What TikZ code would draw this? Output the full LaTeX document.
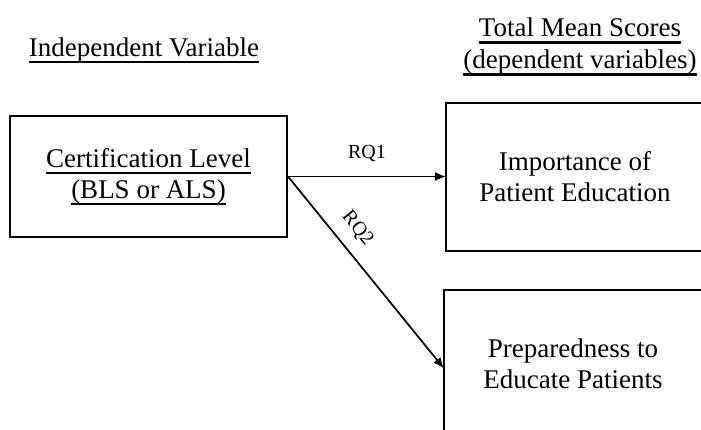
\documentclass[tikz,border=0pt]{standalone}
\usepackage{fontspec}
\setmainfont{Liberation Serif}
\usetikzlibrary{shapes,arrows.meta,calc}
\newsavebox{\undlbox}
\newcommand{\undl}[1]{\sbox{\undlbox}{#1}\rlap{\rule[-6.9pt]{\wd\undlbox}{2.4pt}}\usebox{\undlbox}}

\begin{document}
\begin{tikzpicture}[
    x=1pt, y=-1pt,
    node distance=1.5cm,
    auto,
    block/.style={
      rectangle,
      draw,
      line width=2pt,
      align=center,
      inner sep=3pt,
      font=\fontsize{27}{31}\selectfont
    },
    header/.style={
      align=center,
      inner sep=0pt,
      font=\fontsize{27}{32}\selectfont
    },
    rqlabel/.style={inner sep=2pt, font=\fontsize{20}{24}\selectfont},
    line/.style={draw, -{Latex[length=11pt,width=9pt]}, line width=1.7pt},
    border/.style={draw, line width=2pt},
]
    \path [use as bounding box, clip] (0,0) rectangle (701,429);

    \node [header, anchor=base] (indep) at (144,56) {\undl{Independent Variable}};
    \node [header, anchor=north] (depvars) at (580,18) {\undl{Total Mean Scores}\\ \undl{(dependent variables)}};

    \node [block, minimum width=277pt, minimum height=121pt] (cert) at (148.5,176.5) {\undl{Certification Level}\\ \undl{(BLS or ALS)}};
    \node [block, draw=none, right of=cert, node distance=426.5pt, minimum width=256pt, minimum height=146pt] (importance) {Importance of\\ Patient Education};
    \node [block, draw=none, below of=importance, node distance=187pt, xshift=-2pt, minimum width=256pt, minimum height=146pt] (prepared) {Preparedness to\\ Educate Patients};

    % right boxes run off the page
    \path [border] ([xshift=20pt]importance.north east) -- (importance.north west) -- (importance.south west) -- ([xshift=20pt]importance.south east);
    \path [border] ([xshift=20pt]prepared.north east) -- (prepared.north west) -- (prepared.south west);

    \path [line] (cert.east) -- node [rqlabel, above=12pt] {RQ1} (cert.east -| importance.west);
    \path [line] (cert.east) -- node [rqlabel, sloped, pos=0.34, above=10pt] {RQ2} ([yshift=-5pt]prepared.west);

\end{tikzpicture}
\end{document}
